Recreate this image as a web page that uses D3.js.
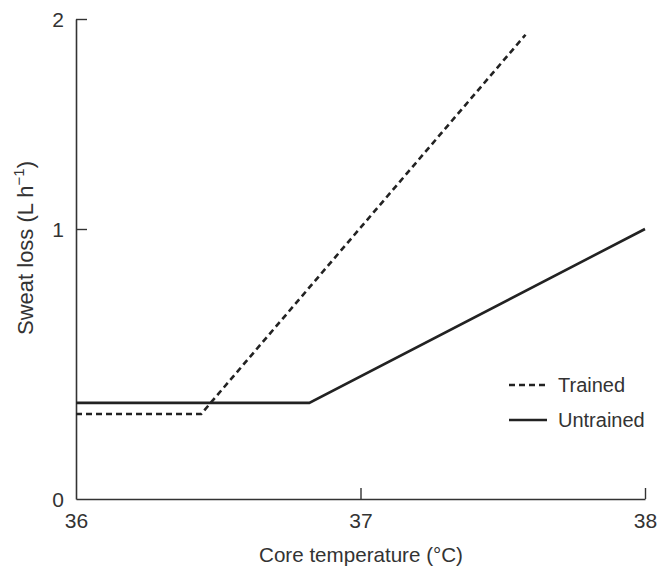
<!DOCTYPE html>
<html>
<head>
<meta charset="utf-8">
<script src="https://cdn.jsdelivr.net/npm/d3@7"></script>
<style>
  html, body { margin: 0; padding: 0; background: #fff; }
  svg { display: block; }
  text { font-family: "Liberation Sans", Arial, Helvetica, sans-serif; fill: #333; }
</style>
</head>
<body>
<svg id="chart" width="658" height="567"></svg>
<script>
// Data
const xTicks = [36, 37, 38];
const yTicks = [0, 1, 2];
const seriesNames = ["Trained", "Untrained"];
const trainedX = [36, 36.44, 37.58];
const trainedY = [0.315, 0.315, 1.925];
const untrainedX = [36, 36.82, 38];
const untrainedY = [0.356, 0.356, 1.0];
const xLabel = "Core temperature (°C)";
const yLabel = "Sweat loss (L h";

const svg = d3.select("#chart");
const x = d3.scaleLinear().domain([36, 38]).range([76, 645]);
// the reference's y axis is not evenly spaced: piecewise linear
const y = d3.scaleLinear().domain([0, 1, 2]).range([499, 229, 19]);

// axes
const xAxis = d3.axisBottom(x).tickValues(xTicks).tickSize(-11).tickSizeOuter(0).tickPadding(14).tickFormat(d3.format("d"));
const gx = svg.append("g").attr("transform", `translate(0,${y(0)})`).call(xAxis);
const yAxis = d3.axisLeft(y).tickValues(yTicks).tickSize(-11).tickSizeOuter(0).tickPadding(12).tickFormat(d3.format("d"));
const gy = svg.append("g").attr("transform", `translate(${x(36)},0)`).call(yAxis);
[gx, gy].forEach(g => {
  g.selectAll("path.domain").attr("stroke", "#333").attr("stroke-width", 1.6);
  g.selectAll(".tick line").attr("stroke", "#333").attr("stroke-width", 1.4);
  g.selectAll(".tick text").attr("font-size", 21).attr("fill", "#333")
    .attr("font-family", "Liberation Sans, Arial, sans-serif");
});
gx.selectAll(".tick").filter(d => d === 36).select("line").remove();
gy.selectAll(".tick").filter(d => d === 0).select("line").remove();
gy.selectAll(".tick text").attr("dy", "0.35em");

// lines
const line = d3.line().x(d => x(d[0])).y(d => y(d[1]));
const trained = trainedX.map((v, i) => [v, trainedY[i]]);
const untrained = untrainedX.map((v, i) => [v, untrainedY[i]]);

svg.append("path").datum(untrained).attr("d", line)
  .attr("fill", "none").attr("stroke", "#222").attr("stroke-width", 2.6);
svg.append("path").datum(trained).attr("d", line)
  .attr("fill", "none").attr("stroke", "#222").attr("stroke-width", 2.6)
  .attr("stroke-dasharray", "6,4");

// axis labels
svg.append("text").attr("x", 361).attr("y", 562).attr("text-anchor", "middle")
  .attr("font-size", 20.6).text(xLabel);

const yl = svg.append("text").attr("transform", "translate(33,248) rotate(-90)")
  .attr("text-anchor", "middle").attr("font-size", 22);
yl.append("tspan").text(yLabel);
yl.append("tspan").attr("font-size", 15).attr("dy", -9).text("−1");
yl.append("tspan").attr("dy", 9).text(")");

// legend
const legend = svg.append("g");
seriesNames.forEach((name, i) => {
  const ly = 385 + i * 35;
  legend.append("line").attr("x1", 509).attr("x2", 547).attr("y1", ly).attr("y2", ly)
    .attr("stroke", "#222").attr("stroke-width", 2.6)
    .attr("stroke-dasharray", i === 0 ? "6,4" : null);
  legend.append("text").attr("x", 558).attr("y", ly).attr("dy", "0.35em")
    .attr("font-size", 20).text(name);
});
</script>
</body>
</html>
